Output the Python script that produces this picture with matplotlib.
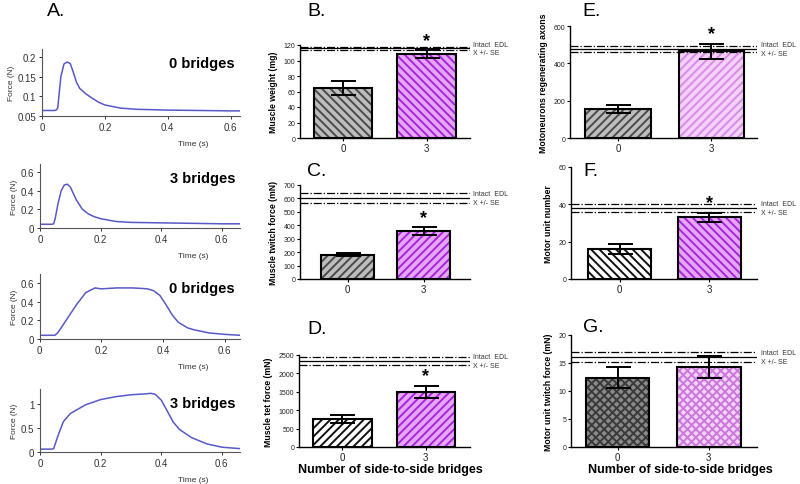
import matplotlib
matplotlib.use("Agg")
import matplotlib.pyplot as plt
import matplotlib.transforms as mtransforms

plt.rcParams['font.family'] = ['Liberation Sans', 'DejaVu Sans']
plt.rcParams['hatch.linewidth'] = 1.4

# ---- data: force traces (panel A) ----
t1 = [0, 0.04, 0.045, 0.05, 0.06, 0.07, 0.08, 0.09, 0.1, 0.11, 0.12, 0.14, 0.16, 0.18, 0.2, 0.25, 0.3, 0.4, 0.5, 0.6, 0.65]
f1 = [0.064, 0.064, 0.065, 0.07, 0.15, 0.182, 0.187, 0.183, 0.16, 0.135, 0.12, 0.106, 0.095, 0.085, 0.078, 0.07, 0.067, 0.065, 0.064, 0.063, 0.063]
t2 = [0, 0.04, 0.045, 0.05, 0.06, 0.07, 0.08, 0.09, 0.1, 0.11, 0.12, 0.14, 0.16, 0.18, 0.2, 0.25, 0.3, 0.4, 0.5, 0.6, 0.66]
f2 = [0.04, 0.04, 0.045, 0.1, 0.27, 0.4, 0.46, 0.47, 0.44, 0.37, 0.3, 0.2, 0.15, 0.12, 0.1, 0.07, 0.06, 0.055, 0.05, 0.045, 0.045]
t3 = [0, 0.03, 0.05, 0.06, 0.08, 0.1, 0.12, 0.15, 0.18, 0.2, 0.25, 0.3, 0.33, 0.35, 0.37, 0.39, 0.41, 0.43, 0.45, 0.48, 0.5, 0.55, 0.6, 0.65]
f3 = [0.04, 0.04, 0.04, 0.07, 0.17, 0.27, 0.37, 0.5, 0.55, 0.54, 0.55, 0.55, 0.545, 0.54, 0.52, 0.47, 0.37, 0.26, 0.18, 0.12, 0.1, 0.065, 0.05, 0.04]
t4 = [0, 0.04, 0.045, 0.06, 0.077, 0.1, 0.15, 0.2, 0.25, 0.3, 0.35, 0.365, 0.38, 0.4, 0.42, 0.44, 0.46, 0.5, 0.55, 0.6, 0.66]
f4 = [0.06, 0.06, 0.07, 0.35, 0.63, 0.8, 0.98, 1.09, 1.15, 1.19, 1.21, 1.22, 1.2, 1.08, 0.85, 0.62, 0.47, 0.3, 0.17, 0.1, 0.07]
trace_labels = ['0 bridges', '3 bridges', '0 bridges', '3 bridges']

# ---- data: bar panels ----
groups = ['0', '3']
weight_mean = [65, 108]
weight_se = [9, 5]
twitch_mean = [180, 355]
twitch_se = [12, 30]
tet_mean = [760, 1500]
tet_se = [110, 160]
axons_mean = [155, 465]
axons_se = [22, 40]
munum_mean = [16, 33]
munum_se = [2.5, 2.5]
mutw_mean = [12.4, 14.3]
mutw_se = [1.9, 2.0]
# intact EDL mean and SE
intact_weight = (115.5, 1.5)
intact_twitch = (603, 40)
intact_tet = (2340, 110)
intact_axons = (476, 16)
intact_munum = (38, 2.3)
intact_mutw = (16.05, 0.85)

W, H = 800, 485
fig = plt.figure(figsize=(8, 4.85), dpi=100)


def rect(l, r, b, t):
    return [l / W, 1 - b / H, (r - l) / W, (b - t) / H]


# ---- panel A ----
trace_boxes = [(42, 240, 117, 50), (40, 240, 229, 165), (39.5, 240, 340, 275), (40, 240, 453, 390)]
trace_xmax = [0.63, 0.66, 0.65, 0.66]
trace_data = [(t1, f1), (t2, f2), (t3, f3), (t4, f4)]
trace_ylims = [(0.05, 0.22), (0, 0.686), (0, 0.7), (0, 1.31)]
trace_yticks = [[0.05, 0.1, 0.15, 0.2], [0, 0.2, 0.4, 0.6], [0, 0.2, 0.4, 0.6], [0, 0.5, 1]]
trace_yticklabels = [['0.05', '0.1', '0.15', '0.2'], ['0', '0.2', '0.4', '0.6'], ['0', '0.2', '0.4', '0.6'], ['0', '0.5', '1']]
for box, xm, (t, f), yl, yt, ytl, lab in zip(trace_boxes, trace_xmax, trace_data, trace_ylims,
                                             trace_yticks, trace_yticklabels, trace_labels):
    ax = fig.add_axes(rect(*box))
    ax.plot(t, f, color='#5858c8', lw=1.1)
    ax.set_xlim(0, xm)
    ax.set_ylim(*yl)
    ax.set_xticks([0, 0.2, 0.4, 0.6])
    ax.set_xticklabels(['0', '0.2', '0.4', '0.6'])
    ax.set_yticks(yt)
    ax.set_yticklabels(ytl)
    for s in ['top', 'right']:
        ax.spines[s].set_visible(False)
    for s in ['left', 'bottom']:
        ax.spines[s].set_color('#555555')
        ax.spines[s].set_linewidth(0.8)
    ax.tick_params(labelsize=7, colors='#333333', length=2.5, width=0.7, pad=1.5)
    ax.set_ylabel('Force (N)', fontsize=6, color='#333333', labelpad=2)
    fig.text(193 / W, 1 - (box[2] + 28) / H, 'Time (s)', fontsize=6, color='#333333', ha='center', va='center')
    fig.text(235 / W, 1 - (box[3] + 14) / H, lab, fontsize=10.5, fontweight='bold', ha='right', va='center')

fig.text(47 / W, 1 - 12 / H, 'A.', fontsize=14, ha='left', va='center')

# ---- bar panels ----
panels = [
    dict(box=(300, 470, 139, 46), xl=(-0.515, 1.52), ylim=(0, 120), yticks=[0, 20, 40, 60, 80, 100, 120],
         mean=weight_mean, se=weight_se, intact=intact_weight, ylab='Muscle weight (mg)', letter='B.',
         lpos=(307, 12), star=True,
         styles=[('#bdbdbd', '#4a4a4a', '\\\\\\\\'), ('#e6a6f6', '#a824dc', '\\\\\\\\')]),
    dict(box=(300, 470, 280, 186), xl=(-0.625, 1.61), ylim=(0, 700), yticks=list(range(0, 701, 100)),
         mean=twitch_mean, se=twitch_se, intact=intact_twitch, ylab='Muscle twitch force (mN)', letter='C.',
         lpos=(307, 172), star=True,
         styles=[('#bdbdbd', '#4a4a4a', '////'), ('#e6a6f6', '#a824dc', '////')]),
    dict(box=(299, 470, 448, 356), xl=(-0.52, 1.53), ylim=(0, 2500), yticks=[0, 500, 1000, 1500, 2000, 2500],
         mean=tet_mean, se=tet_se, intact=intact_tet, ylab='Muscle tet force (mN)', letter='D.',
         lpos=(307, 330), star=True,
         styles=[('white', '#111111', '////'), ('#e6a6f6', '#a824dc', '////')]),
    dict(box=(570, 757, 139, 27), xl=(-0.516, 1.49), ylim=(0, 600), yticks=[0, 200, 400, 600],
         mean=axons_mean, se=axons_se, intact=intact_axons, ylab='Motoneurons regenerating axons', letter='E.',
         lpos=(582, 12), star=True,
         styles=[('#bdbdbd', '#4a4a4a', '////'), ('#f4d2f8', '#d88ae8', '////')]),
    dict(box=(571, 757, 280, 168), xl=(-0.54, 1.53), ylim=(0, 60), yticks=[0, 20, 40, 60],
         mean=munum_mean, se=munum_se, intact=intact_munum, ylab='Motor unit number', letter='F.',
         lpos=(583, 172), star=True,
         styles=[('white', '#111111', '\\\\\\\\'), ('#e6a6f6', '#a824dc', '\\\\\\\\')]),
    dict(box=(571, 757, 448, 336), xl=(-0.51, 1.53), ylim=(0, 20), yticks=[0, 5, 10, 15, 20],
         mean=mutw_mean, se=mutw_se, intact=intact_mutw, ylab='Motor unit twitch force (mN)', letter='G.',
         lpos=(583, 328), star=False,
         styles=[('#8a8a8a', '#3a3a3a', 'xxxx'), ('#f3d3f7', '#cc77dd', 'xxxx')]),
]

x = [0, 1]
for p in panels:
    ax = fig.add_axes(rect(*p['box']))
    for xi, m, (fc, hc, hatch) in zip(x, p['mean'], p['styles']):
        ax.bar(xi, m, width=0.7, color=fc, edgecolor=hc, hatch=hatch, linewidth=0)
        ax.bar(xi, m, width=0.7, fill=False, edgecolor='black', linewidth=1.5)
    ax.errorbar(x, p['mean'], yerr=p['se'], fmt='none', ecolor='black', elinewidth=1.4,
                capsize=9, capthick=1.4)
    im, ise = p['intact']
    ax.axhline(im, color='black', lw=0.9)
    ax.axhline(im + ise, color='black', lw=0.9, ls='-.')
    ax.axhline(im - ise, color='black', lw=0.9, ls='-.')
    trans = mtransforms.blended_transform_factory(ax.transAxes, ax.transData)
    ax.annotate('Intact  EDL', (1.02, im), xycoords=trans, xytext=(0, 3), textcoords='offset points',
                fontsize=5, color='#333333', va='center', ha='left')
    ax.annotate('X +/- SE', (1.02, im), xycoords=trans, xytext=(0, -3), textcoords='offset points',
                fontsize=5, color='#333333', va='center', ha='left')
    if p['star']:
        ax.annotate('*', (1, p['mean'][1] + p['se'][1]), xytext=(0, 1), textcoords='offset points',
                    ha='center', va='bottom', fontsize=13, fontweight='bold', annotation_clip=False)
    ax.set_xlim(*p['xl'])
    ax.set_ylim(*p['ylim'])
    ax.set_yticks(p['yticks'])
    ax.set_xticks(x)
    ax.set_xticklabels(groups)
    for s in ['top', 'right']:
        ax.spines[s].set_visible(False)
    for s in ['left', 'bottom']:
        ax.spines[s].set_linewidth(1.0)
    ax.tick_params(axis='y', labelsize=5, length=2.5, width=0.8, pad=1, labelcolor='#222222')
    ax.tick_params(axis='x', labelsize=7, length=2, width=0.8, pad=1.5, labelcolor='#222222')
    ax.set_ylabel(p['ylab'], fontsize=6.3, fontweight='bold', labelpad=4)
    fig.text(p['lpos'][0] / W, 1 - p['lpos'][1] / H, p['letter'], fontsize=14, ha='left', va='center')

fig.text(390 / W, 1 - 470 / H, 'Number of side-to-side bridges', fontsize=9, fontweight='bold', ha='center', va='center')
fig.text(680 / W, 1 - 470 / H, 'Number of side-to-side bridges', fontsize=9, fontweight='bold', ha='center', va='center')

plt.savefig('out.png', dpi=100)
